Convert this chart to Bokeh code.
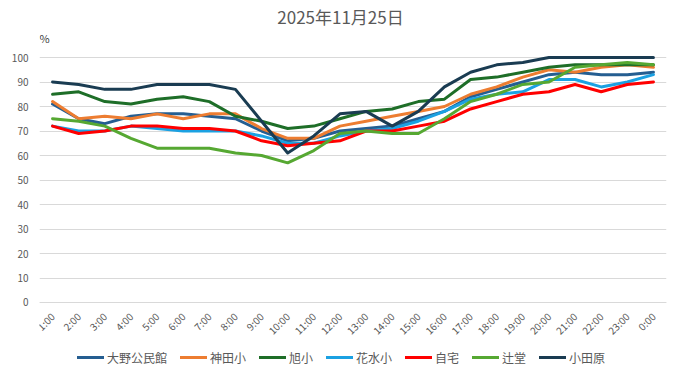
import math
from bokeh.plotting import figure
from bokeh.models import FactorRange, Range1d, Label, FixedTicker, Legend, LegendItem
from bokeh.embed import file_html
from bokeh.resources import INLINE

hours = ["1:00", "2:00", "3:00", "4:00", "5:00", "6:00", "7:00", "8:00", "9:00", "10:00",
         "11:00", "12:00", "13:00", "14:00", "15:00", "16:00", "17:00", "18:00", "19:00",
         "20:00", "21:00", "22:00", "23:00", "0:00"]

ono = [81, 75, 73, 76, 77, 77, 76, 75, 70, 66, 67, 70, 71, 72, 75, 78, 84, 87, 90, 93, 94, 93, 93, 94]
kanda = [82, 75, 76, 75, 77, 75, 77, 77, 71, 67, 67, 72, 74, 76, 78, 80, 85, 88, 92, 95, 94, 96, 97, 96]
asahi = [85, 86, 82, 81, 83, 84, 82, 76, 74, 71, 72, 75, 78, 79, 82, 83, 91, 92, 94, 96, 97, 97, 97, 97]
hanamizu = [72, 70, 70, 72, 71, 70, 70, 70, 68, 65, 65, 68, 70, 71, 74, 78, 83, 85, 86, 91, 91, 88, 90, 93]
jitaku = [72, 69, 70, 72, 72, 71, 71, 70, 66, 64, 65, 66, 70, 70, 72, 74, 79, 82, 85, 86, 89, 86, 89, 90]
tsujido = [75, 74, 72, 67, 63, 63, 63, 61, 60, 57, 62, 69, 70, 69, 69, 75, 82, 85, 89, 90, 96, 97, 98, 97]
odawara = [90, 89, 87, 87, 89, 89, 89, 87, 74, 61, 68, 77, 78, 72, 78, 88, 94, 97, 98, 100, 100, 100, 100, 100]

series_names = ["大野公民館", "神田小", "旭小", "花水小", "自宅", "辻堂", "小田原"]
series_values = [ono, kanda, asahi, hanamizu, jitaku, tsujido, odawara]
series_colors = ["#255e91", "#ed7d31", "#1e6e28", "#1ba1e2", "#ff0000", "#56a832", "#1a3c52"]

title_text = "2025年11月25日"
y_unit = "%"
y_ticks = list(range(0, 101, 10))

FONT = "Noto Sans CJK JP"
GRAY = "#595959"

# frame spans the full canvas height so that title, unit label and legend sit inside it
p = figure(width=681, height=379, x_range=FactorRange(*hours), y_range=Range1d(-31.43, 123.27),
           output_backend="svg", toolbar_location=None,
           min_border_left=39, min_border_right=15, min_border_top=0, min_border_bottom=0)
p.outline_line_color = None
p.background_fill_color = "white"
p.border_fill_color = "white"

items = []
for name, vals, col in zip(series_names, series_values, series_colors):
    r = p.line(hours, vals, line_color=col, line_width=3, line_join="round", line_cap="round")
    items.append(LegendItem(label=name, renderers=[r]))

# axes
p.xgrid.grid_line_color = None
p.ygrid.grid_line_color = "#d9d9d9"
p.ygrid.grid_line_width = 1
p.yaxis.ticker = FixedTicker(ticks=y_ticks)
p.yaxis.axis_line_color = None
p.yaxis.major_tick_line_color = None
p.yaxis.minor_tick_line_color = None
p.yaxis.major_label_standoff = 5
p.yaxis.major_label_text_font = FONT
p.yaxis.major_label_text_font_size = "10px"
p.yaxis.major_label_text_color = GRAY

p.xaxis.fixed_location = 0
p.xaxis.axis_line_color = "#d9d9d9"
p.xaxis.major_tick_line_color = None
p.xaxis.minor_tick_line_color = None
p.xaxis.major_label_orientation = math.pi / 4
p.xaxis.major_label_standoff = 6
p.xaxis.major_label_text_font = FONT
p.xaxis.major_label_text_font_size = "10px"
p.xaxis.major_label_text_color = GRAY

legend = Legend(items=items, orientation="horizontal", location=(38, 12),
                glyph_width=27, glyph_height=20, label_height=20, label_standoff=3,
                spacing=13, padding=0, margin=0,
                label_text_font=FONT, label_text_font_size="12px", label_text_color=GRAY,
                border_line_color=None, background_fill_alpha=0)
p.add_layout(legend, "center")

p.add_layout(Label(x=301, y=116.6, x_units="screen", y_units="data", text=title_text,
                   text_align="center", text_baseline="middle", text_font=FONT,
                   text_font_size="17px", text_color=GRAY))
p.add_layout(Label(x=0, y=107.8, x_units="screen", y_units="data", text=y_unit,
                   text_align="left", text_baseline="middle", text_font=FONT,
                   text_font_size="11px", text_color="#404040"))

open("out.html", "w").write(file_html(p, INLINE))
